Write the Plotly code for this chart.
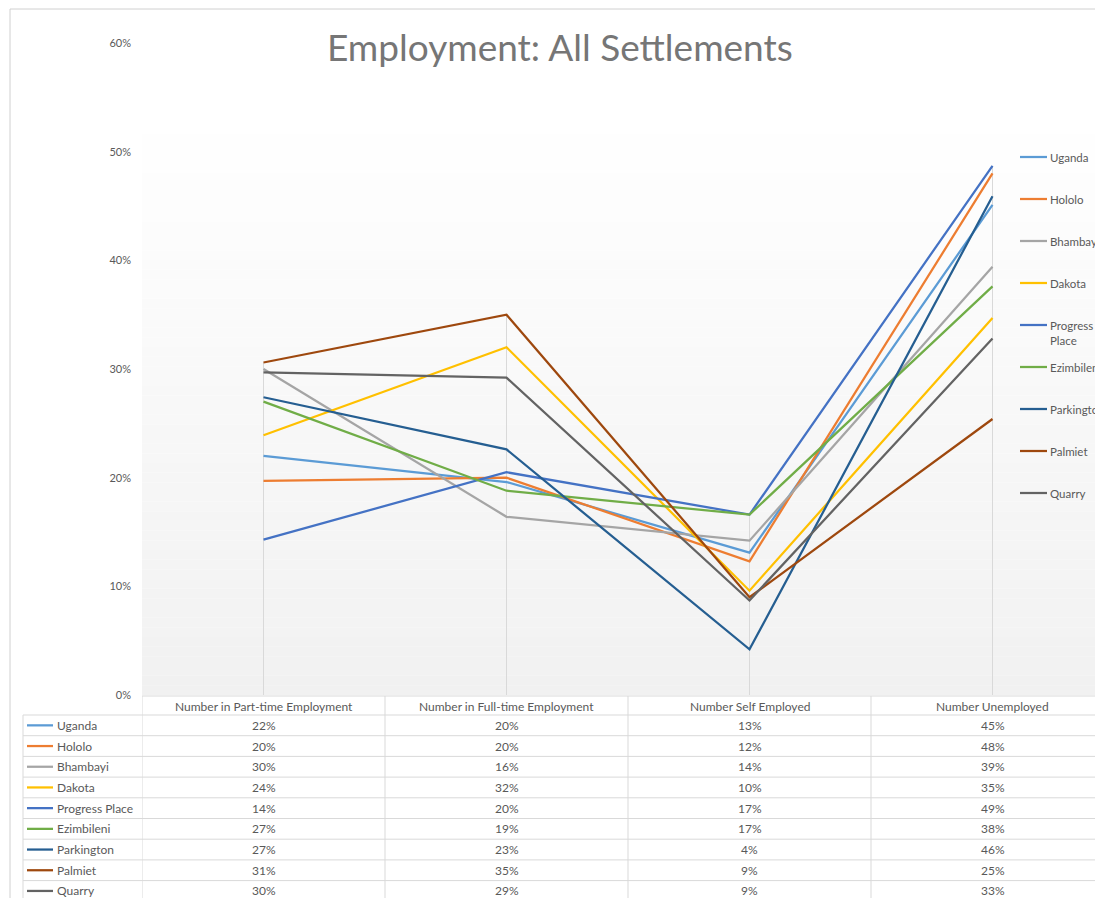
import plotly.graph_objects as go

categories = ["Number in Part-time Employment", "Number in Full-time Employment",
              "Number Self Employed", "Number Unemployed"]
series_names = ["Uganda", "Hololo", "Bhambayi", "Dakota", "Progress Place",
                "Ezimbileni", "Parkington", "Palmiet", "Quarry"]
uganda = [0.220, 0.196, 0.131, 0.451]
hololo = [0.197, 0.200, 0.123, 0.480]
bhambayi = [0.300, 0.164, 0.142, 0.394]
dakota = [0.239, 0.320, 0.096, 0.347]
progress_place = [0.143, 0.205, 0.166, 0.487]
ezimbileni = [0.270, 0.188, 0.166, 0.376]
parkington = [0.274, 0.226, 0.042, 0.459]
palmiet = [0.306, 0.350, 0.090, 0.254]
quarry = [0.297, 0.292, 0.087, 0.328]
values = [uganda, hololo, bhambayi, dakota, progress_place, ezimbileni,
          parkington, palmiet, quarry]
legend_labels = ["Uganda", "Hololo", "Bhambayi", "Dakota", "Progress<br>Place",
                 "Ezimbileni", "Parkington", "Palmiet", "Quarry"]
colors = ["#5B9BD5", "#ED7D31", "#A5A5A5", "#FFC000", "#4472C4",
          "#70AD47", "#255E91", "#9E480E", "#636363"]

# page has an 8px body margin; figure coordinates are screen - 8
OFF = 8
W, H = 1103 - OFF, 898 - OFF
L, R, T = 142 - OFF, 0, 43 - OFF
B = H - (695 - OFF)
PW, PH = W - L - R, H - T - B


def px(xs):
    return (xs - OFF - L) / PW


def py(ys):
    return (H - B - (ys - OFF)) / PH


FONT = "Lato"
TXT = "#595959"
GRID = "#d9d9d9"

fig = go.Figure()
xi = list(range(len(categories)))
for name, vals, col in zip(series_names, values, colors):
    fig.add_trace(go.Scatter(x=xi, y=vals, mode="lines", name=name,
                             line=dict(color=col, width=2.25), showlegend=False))

shapes = []
# gradient background of plot area
nb = 60
top, bot = 115, 695
for k in range(nb):
    y0 = top + (bot - top) * k / nb
    y1 = top + (bot - top) * (k + 1) / nb
    t = (k + 0.5) / nb
    g = round(255 - (255 - 241) * t)
    shapes.append(dict(type="rect", xref="paper", yref="paper", x0=0, x1=1.01,
                       y0=py(y1), y1=py(y0), fillcolor=f"rgb({g},{g},{g})",
                       line=dict(width=0), layer="below"))
# drop lines
for i in xi:
    mx = max(v[i] for v in values)
    shapes.append(dict(type="line", xref="x", yref="y", x0=i, x1=i, y0=0, y1=mx,
                       line=dict(color=GRID, width=1), layer="below"))
# chart outer border
shapes.append(dict(type="rect", xref="paper", yref="paper", x0=px(10), x1=px(1200),
                   y0=py(1000), y1=py(9), line=dict(color="#d0d0d0", width=1),
                   fillcolor="rgba(0,0,0,0)", layer="below"))

# data table
hdr_top = 696
row_h = 20.7
first_row_top = 715
n = len(series_names)
table_bottom = first_row_top + row_h * n
shapes.append(dict(type="line", xref="paper", yref="paper", x0=px(142), x1=px(1110),
                   y0=py(hdr_top), y1=py(hdr_top), line=dict(color=GRID, width=1)))
for r in range(n + 1):
    yy = first_row_top + row_h * r
    shapes.append(dict(type="line", xref="paper", yref="paper", x0=px(23), x1=px(1110),
                       y0=py(yy), y1=py(yy), line=dict(color=GRID, width=1)))
shapes.append(dict(type="line", xref="paper", yref="paper", x0=px(23), x1=px(23),
                   y0=py(first_row_top), y1=py(table_bottom), line=dict(color=GRID, width=1)))
for b in [-0.5, 0.5, 1.5, 2.5]:
    shapes.append(dict(type="line", xref="x", yref="paper", x0=b, x1=b,
                       y0=py(hdr_top), y1=py(table_bottom), line=dict(color=GRID, width=1)))

annotations = []
for i, c in enumerate(categories):
    annotations.append(dict(x=i, y=py(706), xref="x", yref="paper", text=c,
                            showarrow=False, font=dict(family=FONT, size=12, color=TXT),
                            xanchor="center", yanchor="middle"))
for r, (name, vals, col) in enumerate(zip(series_names, values, colors)):
    yc = first_row_top + row_h * (r + 0.5)
    shapes.append(dict(type="line", xref="paper", yref="paper", x0=px(27), x1=px(53),
                       y0=py(yc), y1=py(yc), line=dict(color=col, width=2.25)))
    annotations.append(dict(x=px(55), y=py(yc), xref="paper", yref="paper", text=name,
                            showarrow=False, font=dict(family=FONT, size=12, color=TXT),
                            xanchor="left", yanchor="middle"))
    for i, v in enumerate(vals):
        annotations.append(dict(x=i, y=py(yc), xref="x", yref="paper",
                                text=f"{round(v * 100)}%", showarrow=False,
                                font=dict(family=FONT, size=12, color=TXT),
                                xanchor="center", yanchor="middle"))

# legend (right side)
leg_y = [157, 199, 241, 283, 325, 367, 409, 451, 493]
for lab, col, yy in zip(legend_labels, colors, leg_y):
    shapes.append(dict(type="line", xref="paper", yref="paper", x0=px(1020), x1=px(1047),
                       y0=py(yy), y1=py(yy), line=dict(color=col, width=2.25)))
    annotations.append(dict(x=px(1048), y=py(yy - 8), xref="paper", yref="paper", text=lab,
                            showarrow=False, align="left",
                            font=dict(family=FONT, size=11.5, color=TXT),
                            xanchor="left", yanchor="top"))

# title
annotations.append(dict(x=px(560), y=py(47), xref="paper", yref="paper",
                        text="Employment: All Settlements", showarrow=False,
                        font=dict(family=FONT, size=37, color="#767676"),
                        xanchor="center", yanchor="middle"))

fig.update_layout(
    width=W, height=H,
    margin=dict(l=L, r=R, t=T, b=B, autoexpand=False),
    paper_bgcolor="white", plot_bgcolor="rgba(0,0,0,0)",
    shapes=shapes, annotations=annotations,
    showlegend=False,
    xaxis=dict(range=[-0.5, -0.5 + PW / 243.0], showgrid=False, zeroline=False,
               showticklabels=False, showline=False, fixedrange=True),
    yaxis=dict(range=[0, 0.6], dtick=0.1, tickformat=".0%", showgrid=False,
               zeroline=False, showline=False, ticklabelstandoff=10,
               tickfont=dict(family=FONT, size=11, color=TXT)),
)

fig.write_html("out.html")
